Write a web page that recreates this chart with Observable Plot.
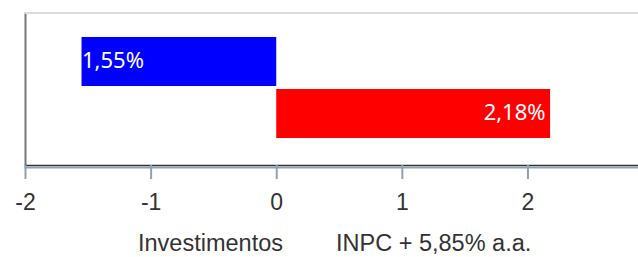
<!DOCTYPE html>
<html>
<head>
<meta charset="utf-8">
<script src="https://cdn.jsdelivr.net/npm/d3@7"></script>
<script src="https://cdn.jsdelivr.net/npm/@observablehq/plot@0.6"></script>
<style>
  html, body { margin: 0; padding: 0; background: #fff; }
  #legend { display: flex; margin-left: 138px; gap: 53px; padding-top: 8px;
    font-family: "Liberation Sans", Arial, sans-serif; font-size: 23.5px; color: #333; white-space: nowrap; }
</style>
</head>
<body>
<div id="chart"></div>
<div id="legend"></div>
<script>
const categories = ["Investimentos", "INPC + 5,85% a.a."];
const values = [-1.55, 2.18];
const barLabels = ["1,55%", "2,18%"];
const colors = ["#0000ff", "#ff0000"];
const xTicks = [-2, -1, 0, 1, 2];
const xDomain = [-2, 2.88];

const data = categories.map((c, i) => ({name: c, value: values[i], label: barLabels[i]}));

const chart = Plot.plot({
  width: 638,
  height: 222,
  marginLeft: 25,
  marginRight: 0,
  marginTop: 12.5,
  marginBottom: 57,
  style: {fontFamily: "Liberation Sans, Arial, sans-serif", fontSize: "23px", color: "#333", background: "#fff"},
  x: {domain: xDomain, axis: null, label: null},
  y: {domain: categories, range: [36, 138.5], paddingInner: 0.06, paddingOuter: 0, axis: null},
  color: {domain: categories, range: colors},
  marks: [
    Plot.barX(data, {x: "value", y: "name", fill: "name"}),
    Plot.text(data.filter(d => d.value < 0), {x: "value", y: "name", text: "label", textAnchor: "start", fill: "white", fontSize: 22, fontFamily: "Noto Sans", dy: -1}),
    Plot.text(data.filter(d => d.value >= 0), {x: "value", y: "name", text: "label", textAnchor: "end", fill: "white", fontSize: 22, fontFamily: "Noto Sans", dx: -5, dy: -1}),
    Plot.ruleX([xDomain[0]], {stroke: "#777", strokeWidth: 2}),
    Plot.frame({anchor: "top", stroke: "#dcdcdc", strokeWidth: 2}),
    Plot.frame({anchor: "bottom", stroke: "#333", strokeWidth: 1.5}),
    Plot.frame({anchor: "bottom", stroke: "#8fa1b0", strokeWidth: 2, dy: 2}),
    Plot.axisX({ticks: xTicks, label: null, tickSize: 14, tickPadding: 14, stroke: "#8fa1b0", strokeWidth: 2, fill: "#333", fontSize: 23, tickFormat: d => String(d)})
  ]
});
document.getElementById("chart").appendChild(chart);

const legend = document.getElementById("legend");
categories.forEach(c => {
  const s = document.createElement("span");
  s.textContent = c;
  legend.appendChild(s);
});
</script>
</body>
</html>
